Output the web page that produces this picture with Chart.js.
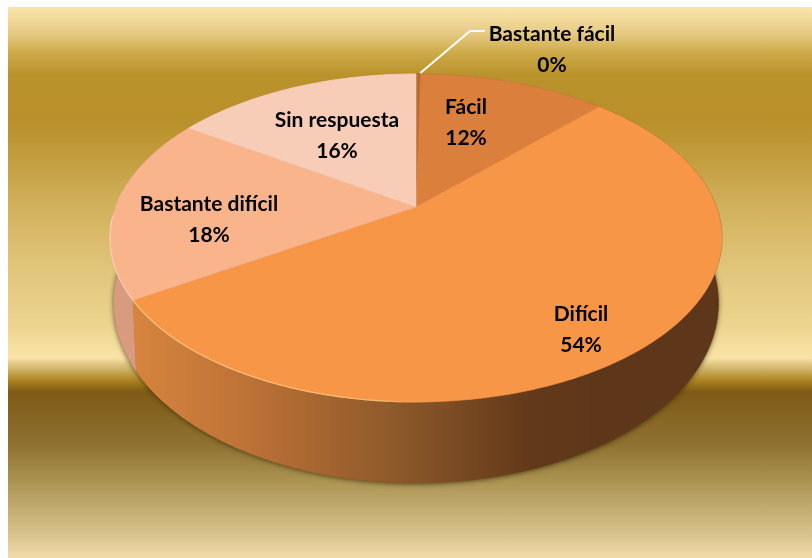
<!DOCTYPE html>
<html><head><meta charset="utf-8">
<script src="https://cdn.jsdelivr.net/npm/chart.js@4"></script>
<style>
html,body{margin:0;padding:0;background:#fff;width:812px;height:558px;overflow:hidden}
#bg{position:absolute;left:8px;top:7px;width:804px;height:551px;
background:linear-gradient(to bottom,#F9E3AA 0px,#F5DDA0 8px,#E6CB85 26px,#CDA948 46px,#BA922C 68px,#B9902A 116px,#C5A144 160px,#CFAE58 193px,#D8BA68 226px,#E0C47A 260px,#EDD590 321px,#FAE2A6 349px,#FAE2A6 351px,#DCC47F 358px,#AE8523 373px,#7E5A15 385px,#8F7232 438px,#A8904E 471px,#C4AE74 504px,#E3CD98 538px,#F3DCAB 551px)}
canvas{position:absolute;left:0;top:0}
</style></head><body>
<div id="bg"></div>
<canvas id="c" width="812" height="558"></canvas>
<script>
const categories=['Bastante fácil','Fácil','Difícil','Bastante difícil','Sin respuesta'];
const percentLabels=['0%','12%','54%','18%','16%'];
const values=[0.3,11.9,53.9,18.2,15.7];
const topColors=['#B96B36','#DA7F3C','#F79646','#F9B48C','#F8CDB7'];
const wallColors=['#8A5028','#A0602C','#D07F3B','#D99B80','#E0B8A0'];

// perspective of the disc: unit circle -> screen
const topRim={a:119,b:207,A:300.5,p:-0.189};
const lowRim={a:122.7,b:269,A:297,p:-0.189};
function project(rim,cx,ang){
  const x=Math.cos(ang),y=Math.sin(ang),d=1+rim.p*y;
  return [cx+rim.A*x/d,(rim.a*y+rim.b)/d];
}
function rimPath(ctx,rim,cx,a0,a1,first){
  const n=Math.max(2,Math.ceil(Math.abs(a1-a0)/0.01));
  for(let i=0;i<=n;i++){
    const p=project(rim,cx,a0+(a1-a0)*i/n);
    if(i===0&&first)ctx.moveTo(p[0],p[1]);else ctx.lineTo(p[0],p[1]);
  }
}
function wallPath(ctx,cx,a0,a1){
  ctx.beginPath();rimPath(ctx,topRim,cx,a0,a1,true);rimPath(ctx,lowRim,cx,a1,a0,false);ctx.closePath();
}
const placements=[
  {x:552,y:34,dy:31},{x:466,y:107,dy:31},{x:581,y:314,dy:31},{x:209,y:204,dy:31},{x:337,y:120,dy:31}
];
const pie3d={
  id:'pie3d',
  beforeDatasetDraw(chart){
    const ctx=chart.ctx,arcs=chart.getDatasetMeta(0).data,cx=arcs[0].x;
    ctx.save();
    // soft shadow round the lower body only
    ctx.save();
    ctx.shadowColor='rgba(40,35,0,0.7)';ctx.shadowBlur=5;ctx.shadowOffsetY=1;
    ctx.fillStyle='#7a4a20';
    ctx.beginPath();rimPath(ctx,lowRim,cx,0,2*Math.PI,true);ctx.closePath();ctx.fill();
    ctx.restore();
    // side walls, back slices first
    const order=[0,1,4,3,2];
    order.forEach(i=>{
      const a=arcs[i];
      let fill=wallColors[i];
      if(i===2){
        const g=ctx.createLinearGradient(136,0,600,0);
        g.addColorStop(0,'#D6843E');g.addColorStop(0.25,'#BC7136');g.addColorStop(0.55,'#8F5A2B');
        g.addColorStop(0.85,'#62391A');g.addColorStop(1,'#5E371A');
        fill=g;
      }
      ctx.fillStyle=fill;ctx.strokeStyle=fill;ctx.lineWidth=0.5;
      wallPath(ctx,cx,a.startAngle,a.endAngle);ctx.fill();ctx.stroke();
    });
    // top faces
    arcs.forEach((a,i)=>{
      ctx.beginPath();
      ctx.moveTo(cx,topRim.b);
      rimPath(ctx,topRim,cx,a.startAngle,a.endAngle,false);
      ctx.closePath();
      ctx.fillStyle=topColors[i];ctx.strokeStyle=topColors[i];ctx.lineWidth=0.6;
      ctx.fill();ctx.stroke();
    });
    // lit rim on the front edge, fading toward the right
    const d=arcs[2];
    const rimGrad=ctx.createLinearGradient(134,0,440,0);
    rimGrad.addColorStop(0,'rgba(255,205,140,0.85)');
    rimGrad.addColorStop(0.8,'rgba(255,200,130,0.75)');
    rimGrad.addColorStop(1,'rgba(255,190,120,0)');
    ctx.beginPath();rimPath(ctx,topRim,cx,Math.PI*0.47,d.endAngle,true);
    ctx.strokeStyle=rimGrad;ctx.lineWidth=1.3;ctx.stroke();
    const b=arcs[3];
    ctx.beginPath();rimPath(ctx,topRim,cx,b.startAngle,b.startAngle+0.5,true);
    ctx.strokeStyle='rgba(255,225,205,0.7)';ctx.lineWidth=1.1;ctx.stroke();
    ctx.restore();
    return false;
  },
  afterDatasetsDraw(chart){
    const ctx=chart.ctx,arcs=chart.getDatasetMeta(0).data,cx=arcs[0].x;
    ctx.save();
    // leader line of the thin slice
    const mid=(arcs[0].startAngle+arcs[0].endAngle)/2,p=project(topRim,cx,mid);
    ctx.beginPath();ctx.moveTo(p[0]+2,p[1]-1);ctx.lineTo(470,31);ctx.lineTo(485,31);
    ctx.strokeStyle='#fff';ctx.lineWidth=2;ctx.stroke();
    ctx.fillStyle='#000';ctx.textAlign='center';ctx.textBaseline='middle';
    ctx.font='bold 21px Lato';
    categories.forEach((c,i)=>{
      const l=placements[i];
      ctx.fillText(c,l.x,l.y);
      ctx.fillText(percentLabels[i],l.x,l.y+l.dy);
    });
    ctx.restore();
  }
};
new Chart(document.getElementById('c'),{
  type:'pie',
  data:{labels:categories,datasets:[{data:values,backgroundColor:topColors,borderWidth:0}]},
  options:{
    responsive:false,animation:false,
    layout:{padding:{left:20}},
    plugins:{legend:{display:false},tooltip:{enabled:false},title:{display:false}}
  },
  plugins:[pie3d]
});
</script></body></html>
